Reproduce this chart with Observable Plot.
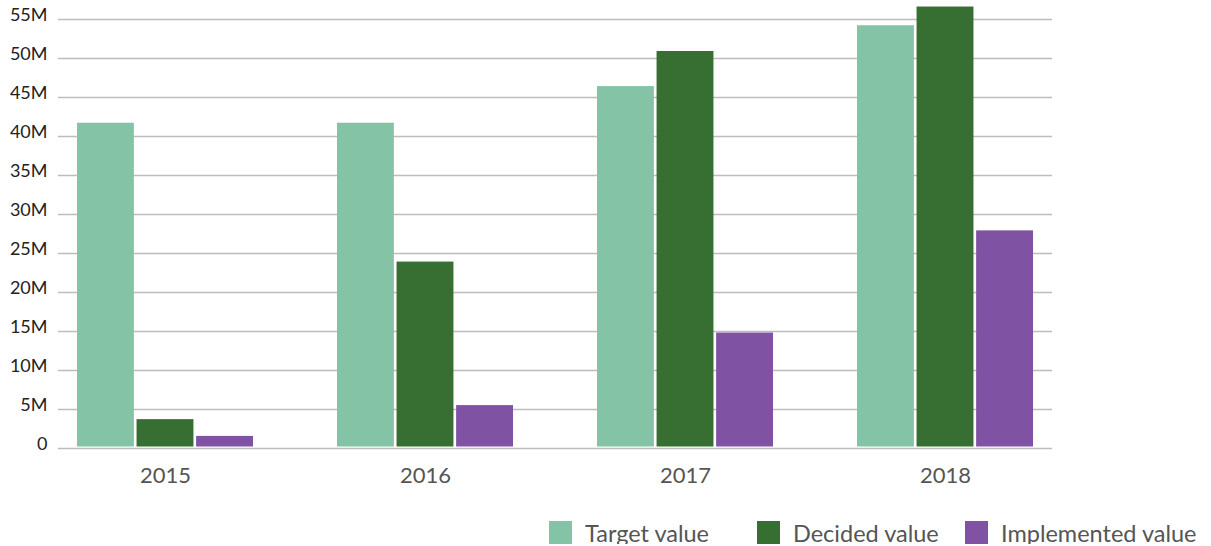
<!DOCTYPE html>
<html>
<head>
<meta charset="utf-8">
<script src="https://cdn.jsdelivr.net/npm/d3@7"></script>
<script src="https://cdn.jsdelivr.net/npm/@observablehq/plot@0.6"></script>
<style>
  body { margin: 0; background: #fff; font-family: Lato, "Open Sans", sans-serif; }
  #chart { position: relative; width: 1211px; height: 500px; }
  #chart svg { position: absolute; left: 0; top: 0; }
  #legend { display: flex; margin-left: 549px; margin-top: 21px; height: 23px; align-items: center; }
  .item { width: 208px; display: flex; align-items: center; flex: none; }
  .sw { width: 23px; height: 23px; margin-right: 13px; flex: none; }
  .lab { font-size: 23.5px; color: #555; white-space: nowrap; }
</style>
</head>
<body>
<div id="chart"></div>
<div id="legend"></div>
<script>
const years = ["2015", "2016", "2017", "2018"];
const series = ["Target value", "Decided value", "Implemented value"];
const targetValues = [41.7e6, 41.7e6, 46.4e6, 54.2e6];
const decidedValues = [3.7e6, 23.9e6, 50.9e6, 56.6e6];
const implementedValues = [1.55e6, 5.5e6, 14.8e6, 27.9e6];
const colors = ["#84c3a6", "#376e32", "#7f52a3"];
const yTicks = [0, 5e6, 10e6, 15e6, 20e6, 25e6, 30e6, 35e6, 40e6, 45e6, 50e6, 55e6];
const yTickLabels = ["0", "5M", "10M", "15M", "20M", "25M", "30M", "35M", "40M", "45M", "50M", "55M"];

const valuesBySeries = [targetValues, decidedValues, implementedValues];
const data = [];
years.forEach((year, i) => {
  series.forEach((s, j) => data.push({year, series: s, value: valuesBySeries[j][i]}));
});
const tickRows = yTicks.map((v, i) => ({v, label: yTickLabels[i]}));

const common = {
  width: 1211,
  height: 500,
  marginLeft: 58,
  marginRight: 159,
  marginTop: 19,
  marginBottom: 52,
  y: {domain: [0, 55e6], axis: null}
};

// Layer 1: continuous gridlines and y tick labels
const gridLayer = Plot.plot({
  ...common,
  style: {fontFamily: "Lato, 'Open Sans', sans-serif", background: "#fff"},
  marks: [
    Plot.ruleY(tickRows, {y: "v", stroke: "#bdbdbd", strokeWidth: 1.5}),
    Plot.text(tickRows, {y: "v", text: "label", frameAnchor: "left", textAnchor: "end", dx: -11, dy: -4, fontSize: 18, fill: "#222"})
  ]
});

// Layer 2: grouped bars and year labels
const barLayer = Plot.plot({
  ...common,
  style: {fontFamily: "Lato, 'Open Sans', sans-serif", background: "transparent"},
  fx: {domain: years, paddingInner: 0.323, paddingOuter: 0.073, round: false, label: null},
  x: {domain: series, paddingInner: 0.045, paddingOuter: 0, round: false, axis: null},
  color: {domain: series, range: colors},
  marks: [
    Plot.barY(data, {fx: "year", x: "series", y: "value", fill: "series", insetBottom: 1.5}),
    Plot.axisFx({anchor: "bottom", tickSize: 0, tickPadding: 19, fontSize: 22, fill: "#555", label: null})
  ]
});

const chartDiv = document.getElementById("chart");
chartDiv.appendChild(gridLayer);
chartDiv.appendChild(barLayer);

const legend = document.getElementById("legend");
series.forEach((s, i) => {
  const item = document.createElement("div");
  item.className = "item";
  const sw = document.createElement("div");
  sw.className = "sw";
  sw.style.background = colors[i];
  const lab = document.createElement("span");
  lab.className = "lab";
  lab.textContent = s;
  item.appendChild(sw);
  item.appendChild(lab);
  legend.appendChild(item);
});
</script>
</body>
</html>
